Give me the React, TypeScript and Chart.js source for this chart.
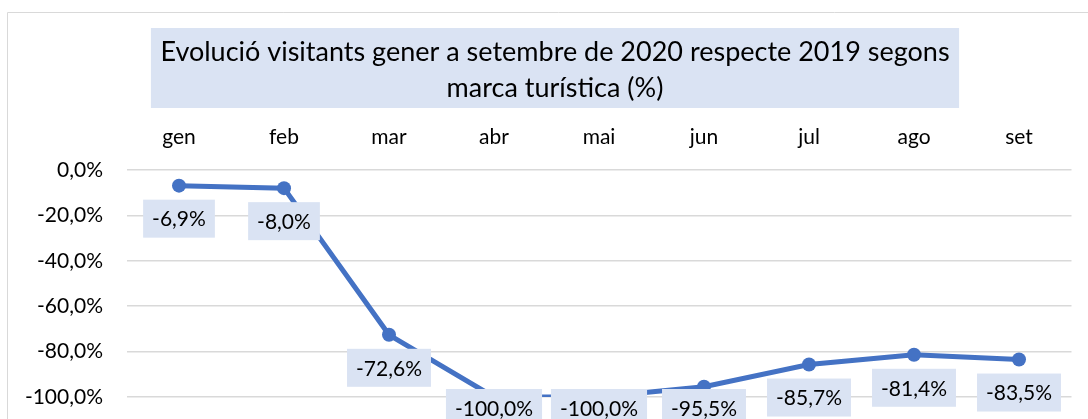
import React, { useEffect, useRef } from "react";
import { Chart, registerables } from "chart.js";

Chart.register(...registerables);

const months: string[] = ["gen", "feb", "mar", "abr", "mai", "jun", "jul", "ago", "set"];
const variation: number[] = [-6.9, -8.0, -72.6, -100.0, -100.0, -95.5, -85.7, -81.4, -83.5];
const titleLines: string[] = [
  "Evolució visitants gener a setembre de 2020 respecte 2019 segons",
  "marca turística (%)",
];

const FONT = "Lato, 'Noto Sans', sans-serif";
const LABEL_BG = "#DAE3F3";
const LINE_COLOR = "#4472C4";
const TITLE_SIZE = 27;

const fmt = (v: number) => v.toFixed(1).replace(".", ",") + "%";

const decorPlugin = {
  id: "decor",
  beforeDraw(chart: any) {
    const ctx = chart.ctx;
    ctx.save();
    // chart border
    ctx.strokeStyle = "#D9D9D9";
    ctx.lineWidth = 1;
    ctx.beginPath();
    ctx.moveTo(7.5, chart.height);
    ctx.lineTo(7.5, 12.5);
    ctx.lineTo(chart.width, 12.5);
    ctx.stroke();
    // title with background box, centred on the chart frame
    ctx.font = `${TITLE_SIZE}px ${FONT}`;
    let w = 0;
    titleLines.forEach((l) => (w = Math.max(w, ctx.measureText(l).width)));
    const cx = chart.width / 2;
    ctx.fillStyle = LABEL_BG;
    ctx.fillRect(cx - w / 2 - 9.5, 28, w + 19, 80);
    ctx.fillStyle = "#000000";
    ctx.textAlign = "center";
    ctx.textBaseline = "middle";
    titleLines.forEach((l, i) => ctx.fillText(l, cx, 52 + i * 36));
    ctx.restore();
  },
  afterDatasetsDraw(chart: any) {
    const ctx = chart.ctx;
    const meta = chart.getDatasetMeta(0);
    const data = chart.data.datasets[0].data as number[];
    ctx.save();
    ctx.font = `21px ${FONT}`;
    ctx.textAlign = "center";
    ctx.textBaseline = "middle";
    const limit = 427;
    meta.data.forEach((pt: any, i: number) => {
      const text = fmt(data[i]);
      const tw = ctx.measureText(text).width;
      const bw = tw + 18;
      const bh = 38;
      let top = pt.y + 14;
      if (top + bh > limit) top = limit - bh;
      ctx.fillStyle = LABEL_BG;
      ctx.fillRect(pt.x - bw / 2, top, bw, bh);
      ctx.fillStyle = "#000000";
      ctx.fillText(text, pt.x, top + bh / 2 + 1);
    });
    ctx.restore();
  },
};

export default function App() {
  const ref = useRef<HTMLCanvasElement | null>(null);
  useEffect(() => {
    if (!ref.current) return;
    const chart = new Chart(ref.current, {
      type: "line",
      data: {
        labels: months,
        datasets: [
          {
            data: variation,
            borderColor: LINE_COLOR,
            backgroundColor: LINE_COLOR,
            borderWidth: 5,
            pointRadius: 7,
            pointHoverRadius: 7,
            pointBorderWidth: 0,
            pointBackgroundColor: LINE_COLOR,
            pointBorderColor: LINE_COLOR,
            tension: 0,
          },
        ],
      },
      options: {
        responsive: false,
        animation: false,
        layout: { padding: { left: 0, right: 38.5, top: 106, bottom: 43 } },
        plugins: {
          legend: { display: false },
          tooltip: { enabled: false },
          title: { display: false },
        },
        scales: {
          x: {
            position: "top",
            offset: true,
            grid: { display: false, drawTicks: false, offset: true },
            border: { display: false },
            ticks: { color: "#000000", font: { family: FONT, size: 21 }, padding: 20 },
            afterFit: (s: any) => {
              s.height = 64;
            },
          },
          y: {
            min: -100,
            max: 0,
            grid: { color: "#D9D9D9", lineWidth: 1.5, drawTicks: false },
            border: { display: false },
            ticks: {
              stepSize: 20,
              color: "#000000",
              font: { family: FONT, size: 21 },
              padding: 23.5,
              callback: (v: any) => fmt(Number(v)),
            },
            afterFit: (s: any) => {
              s.width = 126.5;
            },
          },
        },
      },
      plugins: [decorPlugin],
    });
    return () => chart.destroy();
  }, []);
  return (
    <div style={{ position: "fixed", left: 0, top: 0, width: 1088, height: 419, overflow: "hidden", background: "#fff" }}>
      <canvas ref={ref} width={1110} height={440} style={{ display: "block", width: 1110, height: 440 }} />
    </div>
  );
}
